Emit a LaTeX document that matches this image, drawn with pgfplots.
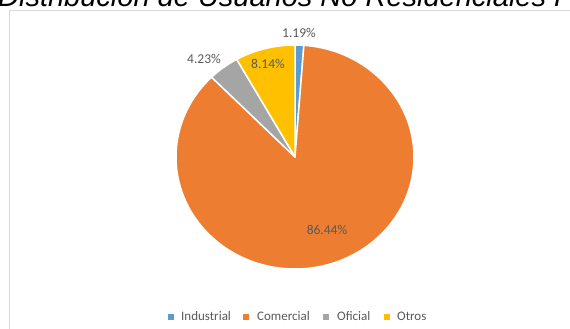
\documentclass[border=0pt]{standalone}
\usepackage{pgfplots}
\pgfplotsset{compat=1.18}
\usepackage{fontspec}
\setmainfont{Carlito}
\newfontfamily\titlefont{Liberation Sans}
\definecolor{cblue}{HTML}{5B9BD5}
\definecolor{corange}{HTML}{ED7D31}
\definecolor{cgrey}{HTML}{A5A5A5}
\definecolor{cgold}{HTML}{FFC000}
\definecolor{lbl}{HTML}{595959}
\definecolor{border}{HTML}{D9D9D9}
% slice values (percent)
\def\vInd{1.19}
\def\vCom{86.44}
\def\vOfi{4.23}
\def\vOtr{8.14}
\begin{document}
\begin{tikzpicture}
\begin{axis}[scale only axis, width=570pt, height=329pt,
  xmin=0, xmax=570, ymin=0, ymax=329, y dir=reverse,
  hide axis, clip=false, at={(0,0)}, anchor=south west]
% border
\draw[border, line width=1pt] (axis cs:9,330) -- (axis cs:9,11) -- (axis cs:571,11);
% title (clipped by page)
\node[anchor=base west, inner sep=0pt, font={\titlefont\itshape\fontsize{29}{30}\selectfont}] at (axis cs:-2,7) {Distribución de Usuarios No Residenciales Por};
% slices
\pgfmathsetmacro{\aA}{90}
\pgfmathsetmacro{\aB}{90-3.6*\vInd}
\pgfmathsetmacro{\aC}{\aB-3.6*\vCom}
\pgfmathsetmacro{\aD}{\aC-3.6*\vOfi}
\pgfmathsetmacro{\aE}{\aD-3.6*\vOtr}
\edef\doslices{%
\noexpand\filldraw[cblue, draw=white, line width=1.5pt, line join=round] (axis cs:295,157) -- ++(\aA:119pt and 112pt) arc[start angle=\aA, end angle=\aB, x radius=119pt, y radius=112pt] -- cycle;
\noexpand\filldraw[corange, draw=white, line width=1.5pt, line join=round] (axis cs:295,157) -- ++(\aB:119pt and 112pt) arc[start angle=\aB, end angle=\aC, x radius=119pt, y radius=112pt] -- cycle;
\noexpand\filldraw[cgrey, draw=white, line width=1.5pt, line join=round] (axis cs:295,157) -- ++(\aC:119pt and 112pt) arc[start angle=\aC, end angle=\aD, x radius=119pt, y radius=112pt] -- cycle;
\noexpand\filldraw[cgold, draw=white, line width=1.5pt, line join=round] (axis cs:295,157) -- ++(\aD:119pt and 112pt) arc[start angle=\aD, end angle=\aE, x radius=119pt, y radius=112pt] -- cycle;
}
\doslices
% data labels
\tikzset{dl/.style={font=\fontsize{13.5}{15}\selectfont, text=lbl, inner sep=0pt}}
\node[dl] at (axis cs:299,33) {\vInd\%};
\node[dl] at (axis cs:204,59) {\vOfi\%};
\node[dl] at (axis cs:268,64) {\vOtr\%};
\node[dl] at (axis cs:327,230) {\vCom\%};
% legend
\tikzset{lg/.style={font=\fontsize{13}{14}\selectfont, text=lbl, inner sep=0pt, anchor=west}}
\fill[cblue] (axis cs:167.5,313.5) rectangle (axis cs:173.5,319.5);
\node[lg] at (axis cs:181,316.5) {Industrial};
\fill[corange] (axis cs:243,313.5) rectangle (axis cs:249,319.5);
\node[lg] at (axis cs:257,316.5) {Comercial};
\fill[cgrey] (axis cs:323,313.5) rectangle (axis cs:329,319.5);
\node[lg] at (axis cs:337,316.5) {Oficial};
\fill[cgold] (axis cs:384,313.5) rectangle (axis cs:390,319.5);
\node[lg] at (axis cs:397,316.5) {Otros};
\end{axis}
\pgfresetboundingbox
\path[use as bounding box] (0,0) rectangle (570pt,329pt);
\end{tikzpicture}
\end{document}
